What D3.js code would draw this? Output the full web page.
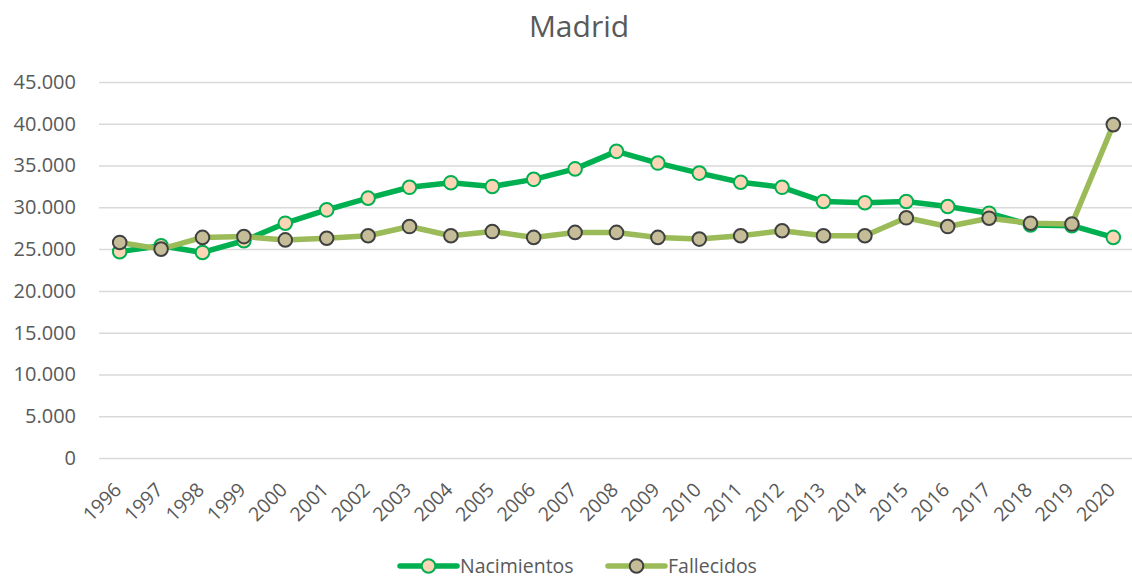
<!DOCTYPE html>
<html><head><meta charset="utf-8">
<script src="https://cdn.jsdelivr.net/npm/d3@7"></script>
<style>body{margin:0;background:#fff;} text{font-family:"Open Sans",sans-serif;}</style>
</head><body><svg id="c" width="1132" height="578"></svg>
<script>
const years = ["1996","1997","1998","1999","2000","2001","2002","2003","2004","2005","2006","2007","2008","2009","2010","2011","2012","2013","2014","2015","2016","2017","2018","2019","2020"];
const nacimientos = [24700,25400,24600,26000,28100,29700,31100,32400,32950,32500,33350,34600,36700,35300,34100,33000,32400,30700,30550,30700,30100,29300,27900,27800,26400];
const fallecidos = [25800,25000,26400,26500,26100,26300,26600,27700,26600,27100,26400,27000,27000,26400,26200,26600,27200,26600,26600,28750,27700,28700,28100,28000,39900];
const yTicks = [0,5000,10000,15000,20000,25000,30000,35000,40000,45000];
const seriesNames = ["Nacimientos","Fallecidos"];

const FONT = "'Open Sans',sans-serif";
const svg = d3.select("#c");
const x = d3.scaleBand().domain(years).range([99,1134]);
const y = d3.scaleLinear().domain([0,45000]).range([458,82]);
const fmt = d3.formatLocale({decimal:",",thousands:".",grouping:[3],currency:["","€"]}).format(",.0f");

svg.append("text").attr("x",579).attr("y",37).attr("text-anchor","middle")
  .attr("font-size",30).attr("fill","#595959").text("Madrid");

const yAxis = svg.append("g").attr("transform","translate(99,0)")
  .call(d3.axisLeft(y).tickValues(yTicks).tickSize(-1035).tickFormat(fmt).tickPadding(23));
yAxis.select(".domain").remove();
yAxis.selectAll("line").attr("stroke","#D9D9D9").attr("stroke-width",1.5);
yAxis.selectAll("text").attr("font-size",20).attr("fill","#595959").attr("font-family",FONT);

const xAxis = svg.append("g").attr("transform","translate(0,458)")
  .call(d3.axisBottom(x).tickSize(0).tickPadding(0));
xAxis.select(".domain").remove();
xAxis.selectAll("text").attr("font-size",19.5).attr("fill","#595959").attr("font-family",FONT)
  .attr("text-anchor","end").attr("dy",null).attr("y",0)
  .attr("transform","translate(3,33) rotate(-45)");

const cx = d => x(d) + x.bandwidth()/2;
const styles = [
  {data:nacimientos, line:"#00B050", fill:"#FBD5B5", stroke:"#00B050"},
  {data:fallecidos, line:"#9BBB59", fill:"#C4BD97", stroke:"#404040"}
];
styles.forEach(s=>{
  const line = d3.line().x((d,i)=>cx(years[i])).y(d=>y(d));
  svg.append("path").datum(s.data).attr("d",line).attr("fill","none")
    .attr("stroke",s.line).attr("stroke-width",5.5).attr("stroke-linejoin","round");
  svg.append("g").selectAll("circle").data(s.data).join("circle")
    .attr("cx",(d,i)=>cx(years[i])).attr("cy",d=>y(d)).attr("r",6.8)
    .attr("fill",s.fill).attr("stroke",s.stroke).attr("stroke-width",2);
});

const legendPos = [400,608];
const ly = 566;
seriesNames.forEach((n,i)=>{
  const s = styles[i], lx = legendPos[i];
  const g = svg.append("g");
  g.append("line").attr("x1",lx).attr("x2",lx+57).attr("y1",ly).attr("y2",ly)
    .attr("stroke",s.line).attr("stroke-width",5.5).attr("stroke-linecap","round");
  g.append("circle").attr("cx",lx+28.5).attr("cy",ly).attr("r",6.8)
    .attr("fill",s.fill).attr("stroke",s.stroke).attr("stroke-width",2);
  g.append("text").attr("x",lx+60).attr("y",ly+6.5).attr("font-size",19.5).attr("fill","#595959").text(n);
});
</script></body></html>
